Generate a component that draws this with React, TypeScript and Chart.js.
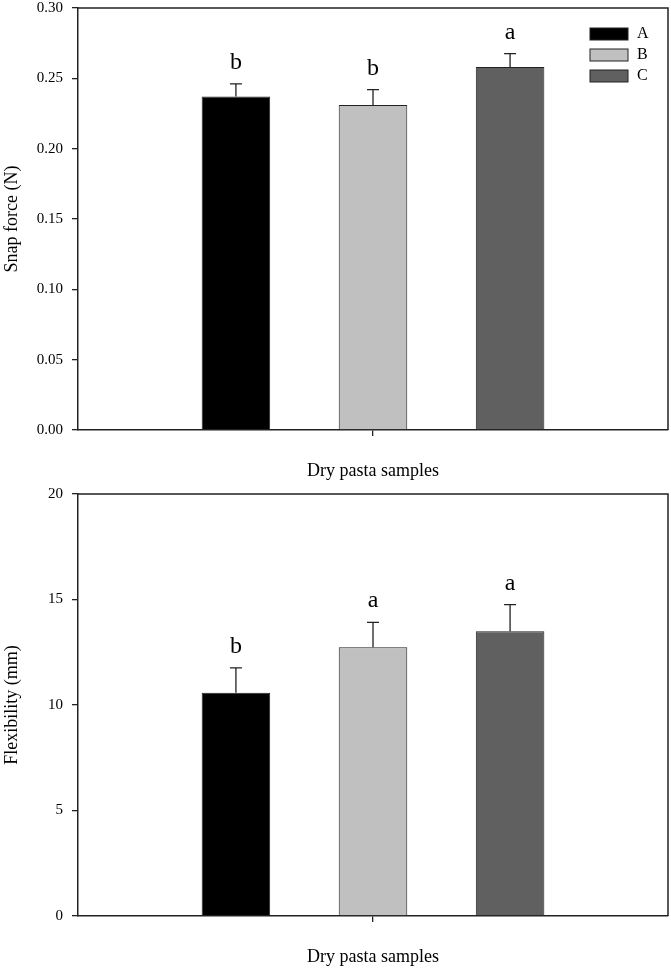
import { useEffect, useRef } from "react";
import Chart from "chart.js/auto";

const SERIF = "'Liberation Serif', 'Times New Roman', Times, serif";

const sampleNames = ["A", "B", "C"];
const barColors = ["#000000", "#c0c0c0", "#606060"];

// Snap force (N), upper error and significance letters
const snapForce = [0.237, 0.231, 0.258];
const snapForceErr = [0.009, 0.011, 0.0095];
const snapLetters = ["b", "b", "a"];

// Flexibility (mm)
const flexibility = [10.58, 12.74, 13.5];
const flexibilityErr = [1.18, 1.18, 1.26];
const flexLetters = ["b", "a", "a"];

type PanelProps = {
  means: number[];
  errors: number[];
  letters: string[];
  yTitle: string;
  yMax: number;
  yStep: number;
  decimals: number;
  showLegend: boolean;
};

const BarPanel = ({ means, errors, letters, yTitle, yMax, yStep, decimals, showLegend }: PanelProps) => {
  const canvasRef = useRef<HTMLCanvasElement | null>(null);

  useEffect(() => {
    if (!canvasRef.current) return;

    const overlay = {
      id: "overlay",
      afterDatasetsDraw(chart: any) {
        const ctx = chart.ctx;
        const { left, right, top, bottom } = chart.chartArea;
        const yScale = chart.scales.y;
        ctx.save();
        // top and right frame
        ctx.strokeStyle = "#222";
        ctx.lineWidth = 1.5;
        ctx.beginPath();
        ctx.moveTo(left, top);
        ctx.lineTo(right, top);
        ctx.lineTo(right, bottom);
        ctx.stroke();

        // error bars + letters
        chart.data.datasets.forEach((_ds: any, i: number) => {
          const bar = chart.getDatasetMeta(i).data[0];
          const yTop = yScale.getPixelForValue(means[i] + errors[i]);
          ctx.strokeStyle = "#222";
          ctx.lineWidth = 1.3;
          ctx.beginPath();
          ctx.moveTo(bar.x, bar.y);
          ctx.lineTo(bar.x, yTop);
          ctx.moveTo(bar.x - 6, yTop);
          ctx.lineTo(bar.x + 6, yTop);
          ctx.stroke();
          ctx.fillStyle = "#000";
          ctx.font = `24px ${SERIF}`;
          ctx.textAlign = "center";
          ctx.textBaseline = "alphabetic";
          ctx.fillText(letters[i], bar.x, yTop - 15);
        });

        if (showLegend) {
          chart.data.datasets.forEach((ds: any, i: number) => {
            const rowTop = top + 20 + i * 21;
            ctx.fillStyle = ds.backgroundColor;
            ctx.fillRect(right - 78, rowTop, 38, 12);
            ctx.strokeStyle = "#222";
            ctx.lineWidth = 1;
            ctx.strokeRect(right - 78, rowTop, 38, 12);
            ctx.fillStyle = "#000";
            ctx.font = `16px ${SERIF}`;
            ctx.textAlign = "left";
            ctx.textBaseline = "middle";
            ctx.fillText(ds.label, right - 31, rowTop + 6);
          });
        }
        ctx.restore();
      },
    };

    const chart = new Chart(canvasRef.current, {
      type: "bar",
      data: {
        labels: [""],
        datasets: sampleNames.map((name, i) => ({
          label: name,
          data: [means[i]],
          backgroundColor: barColors[i],
          borderColor: "#222",
          borderWidth: 1,
          categoryPercentage: 0.697,
          barPercentage: 0.5,
        })),
      },
      options: {
        animation: false,
        responsive: false,
        layout: { padding: { top: 0, right: 3, left: 0, bottom: 0 } },
        plugins: {
          legend: { display: false },
          tooltip: { enabled: false },
        },
        scales: {
          x: {
            grid: {
              offset: false,
              drawOnChartArea: false,
              tickLength: 6,
              color: "#222",
              lineWidth: 1.3,
            },
            border: { color: "#222", width: 1.5 },
            ticks: { display: true },
            title: {
              display: true,
              text: "Dry pasta samples",
              color: "#000",
              font: { family: SERIF, size: 18 },
              padding: { top: 0, bottom: 4 },
            },
            afterFit: (scale: any) => {
              scale.height = 56;
            },
          },
          y: {
            min: 0,
            max: yMax,
            grid: {
              drawOnChartArea: false,
              tickLength: 6,
              color: "#222",
              lineWidth: 1.3,
            },
            border: { color: "#222", width: 1.5 },
            ticks: {
              stepSize: yStep,
              color: "#000",
              padding: 9,
              font: { family: SERIF, size: 15, lineHeight: 1.07 },
              callback: (v: any) => Number(v).toFixed(decimals),
            },
            title: {
              display: true,
              text: yTitle,
              color: "#000",
              font: { family: SERIF, size: 18 },
              padding: { top: 1, bottom: 0 },
            },
            afterFit: (scale: any) => {
              scale.width = 78;
              scale.paddingTop = 8;
              scale.paddingBottom = 0;
            },
          },
        },
      },
      plugins: [overlay],
    });

    return () => {
      chart.destroy();
    };
  }, []);

  return <canvas ref={canvasRef} width={671} height={486} style={{ display: "block", width: 671, height: 486 }} />;
};

export default function App() {
  return (
    <div style={{ position: "absolute", left: 0, top: 0, width: 671, height: 972, background: "#fff" }}>
      <BarPanel
        means={snapForce}
        errors={snapForceErr}
        letters={snapLetters}
        yTitle="Snap force (N)"
        yMax={0.3}
        yStep={0.05}
        decimals={2}
        showLegend={true}
      />
      <BarPanel
        means={flexibility}
        errors={flexibilityErr}
        letters={flexLetters}
        yTitle="Flexibility (mm)"
        yMax={20}
        yStep={5}
        decimals={0}
        showLegend={false}
      />
    </div>
  );
}
